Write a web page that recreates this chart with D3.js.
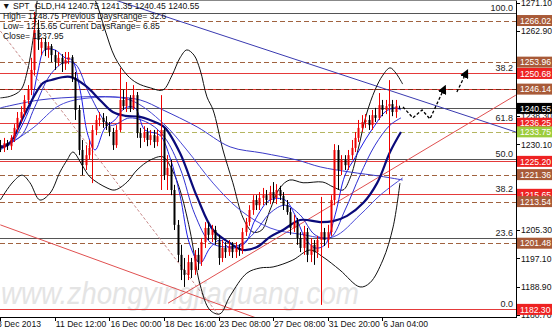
<!DOCTYPE html>
<html><head><meta charset="utf-8">
<script src="https://cdn.jsdelivr.net/npm/d3@7"></script>
<style>html,body{margin:0;padding:0;background:#fff;overflow:hidden}svg{display:block}text{font-family:"Liberation Sans",Arial,sans-serif}</style>
</head><body><svg id="c" width="552" height="328"></svg>
<script>
// ---- candles (H4), index 0..117 ----
const open=[1229.9,1229.1,1230.5,1229.6,1232.0,1234.9,1237.8,1239.5,1243.0,1245.9,
1251.7,1263.3,1258.1,1259.8,1257.5,1258.6,1256.0,1254.0,1255.2,1253.4,
1254.6,1255.4,1249.4,1240.1,1228.5,1224.1,1227.0,1229.1,1234.3,1237.2,
1237.8,1236.6,1235.4,1233.7,1229.9,1234.3,1243.0,1241.2,1243.6,1240.7,
1244.4,1233.4,1232.0,1233.7,1231.4,1232.8,1230.8,1232.5,1234.3,1221.2,
1223.3,1216.9,1206.8,1198.1,1193.7,1192.3,1196.0,1193.7,1198.1,1196.0,
1201.8,1205.9,1203.9,1205.3,1202.4,1197.2,1200.1,1198.9,1200.7,1198.9,
1200.1,1199.5,1204.7,1207.6,1211.1,1214.0,1212.5,1214.6,1215.4,1214.0,
1216.3,1214.6,1216.9,1215.2,1212.5,1210.5,1205.9,1207.6,1203.0,1200.1,
1204.7,1198.1,1201.0,1198.9,1202.4,1204.7,1202.4,1204.7,1214.0,1228.5,
1222.7,1225.6,1224.1,1227.0,1229.1,1232.0,1234.9,1236.6,1237.2,1235.7,
1238.6,1237.8,1241.5,1240.1,1241.2,1241.8,1239.5,1240.75];
const high=[1231.4,1232.0,1231.4,1232.8,1236.0,1239.5,1241.2,1244.4,1247.3,1255.2,
1268.5,1266.2,1261.0,1261.0,1259.8,1259.2,1257.5,1256.9,1256.3,1256.9,
1256.9,1256.0,1251.1,1241.5,1231.4,1229.9,1231.4,1235.7,1238.6,1239.5,
1239.2,1238.3,1236.6,1234.9,1235.7,1252.3,1245.9,1248.2,1244.4,1247.3,
1245.3,1234.9,1235.4,1234.9,1234.3,1234.3,1234.3,1244.4,1234.9,1227.0,
1225.6,1218.4,1208.2,1201.0,1197.2,1198.1,1197.2,1199.5,1200.1,1203.0,
1207.6,1207.6,1206.8,1206.5,1203.9,1202.4,1201.8,1202.4,1201.8,1201.8,
1201.2,1205.9,1208.8,1212.5,1215.4,1215.4,1216.3,1217.5,1216.9,1218.1,
1219.2,1218.6,1218.1,1216.3,1214.0,1211.7,1209.7,1208.8,1204.7,1206.5,
1205.9,1203.0,1202.4,1203.6,1214.9,1205.9,1206.8,1215.4,1230.2,1229.9,
1227.0,1227.0,1228.5,1231.4,1233.7,1237.2,1238.6,1238.9,1238.6,1240.1,
1240.7,1245.0,1243.0,1243.0,1248.75,1243.0,1243.0,1241.35];
const low=[1227.9,1227.9,1228.5,1228.5,1230.8,1233.7,1236.6,1238.3,1241.8,1244.4,
1250.2,1257.5,1256.0,1255.7,1255.2,1254.0,1251.7,1252.8,1251.1,1251.7,
1253.4,1248.2,1237.2,1227.0,1221.2,1222.7,1225.6,1218.9,1232.8,1235.4,
1234.9,1234.3,1232.5,1228.5,1229.1,1233.7,1240.1,1239.5,1239.5,1240.1,
1232.0,1229.1,1230.8,1229.6,1229.9,1229.1,1229.6,1216.9,1219.8,1216.9,
1215.4,1205.3,1196.0,1190.8,1188.8,1190.8,1191.4,1192.3,1193.7,1194.9,
1200.1,1202.4,1201.8,1201.0,1195.2,1196.0,1197.2,1197.8,1197.2,1197.2,
1197.8,1198.4,1203.6,1206.5,1209.7,1211.1,1211.1,1212.5,1212.5,1212.8,
1213.4,1212.8,1214.0,1211.1,1209.7,1203.9,1204.7,1201.0,1198.9,1198.1,
1196.0,1196.0,1195.2,1197.2,1183.6,1200.7,1200.1,1203.6,1212.5,1216.9,
1221.2,1222.7,1222.7,1225.6,1227.9,1230.8,1233.7,1234.9,1234.3,1234.3,
1236.6,1237.2,1238.3,1238.9,1215.65,1238.3,1237.8,1240.45];
const close=[1229.1,1230.5,1229.6,1232.0,1234.9,1237.8,1239.5,1243.0,1245.9,1251.7,
1263.3,1260.4,1259.8,1257.5,1258.6,1256.0,1254.0,1255.2,1253.4,1254.6,
1255.4,1249.4,1240.1,1228.5,1224.1,1227.0,1229.1,1234.3,1237.2,1237.8,
1236.6,1235.4,1233.7,1229.9,1234.3,1243.0,1241.2,1243.6,1240.7,1244.4,
1233.4,1232.0,1233.7,1231.4,1232.8,1230.8,1232.5,1234.3,1221.2,1223.3,
1216.9,1206.8,1198.1,1193.7,1192.3,1196.0,1193.7,1198.1,1196.0,1201.8,
1205.9,1203.9,1205.3,1202.4,1197.2,1200.1,1198.9,1200.7,1198.9,1200.1,
1199.5,1204.7,1207.6,1211.1,1214.0,1212.5,1214.6,1215.4,1214.0,1216.3,
1214.6,1216.9,1215.2,1212.5,1210.5,1205.9,1207.6,1203.0,1200.1,1204.7,
1198.1,1201.0,1198.9,1202.4,1204.7,1202.4,1204.7,1214.0,1228.5,1222.7,
1225.6,1224.1,1227.0,1229.1,1232.0,1234.9,1236.6,1237.2,1235.7,1238.6,
1237.8,1241.5,1240.1,1241.2,1241.8,1239.5,1241.2,1240.55];

// ---- indicator lines (bar index, price) ----
const navyIdx=[0,3,7,12.5,15,20.5,25.4,29.2,33,36.6,41,46,48.3,52.7,57.7,62.4,67.4,71.2,75.3,79.1,82.9,87.9,93.8,97.6,101.7,106.4,110.5,114.3,117.5];
const navyVal=[1229.1,1230.8,1238.6,1247.9,1248.8,1249.7,1246.8,1243.0,1239.5,1238.4,1238.1,1236.3,1234.9,1227.6,1214.9,1205.3,1201.5,1199.5,1200.4,1203.3,1205.3,1208.2,1207.6,1207.9,1209.4,1213.1,1218.9,1227.9,1233.7];
const fastIdx=[0,3,6,9,11,13,16,19,21,23.4,25.7,27.8,30.7,33.6,36.6,39.5,42.4,46.8,49.8,52.7,55.6,58.6,61.5,64.4,67.4,71.8,74.7,79.1,83.5,86.4,89.4,92.3,95.2,98.2,101.1,104,107,109.9,112.8,115.7,117.5];
const fastVal=[1229.1,1230.2,1234.9,1241.8,1251.1,1257.5,1257.5,1255.2,1254.6,1245.9,1232.8,1228.5,1234.9,1237.2,1240.7,1240.7,1234.3,1232.8,1226.2,1215.4,1201.0,1195.7,1200.1,1202.4,1200.1,1201.5,1208.2,1214.0,1214.0,1209.7,1203.0,1200.1,1201.0,1209.7,1221.2,1226.2,1231.4,1235.7,1239.5,1240.7,1240.1];
const midIdx=[0,6,10,14.6,19,22,26.3,32.2,38,44,48.3,52.7,57.1,61.5,65.9,70.3,74.7,79.1,83.5,87.9,92.3,96.7,101.1,105.5,109.9,114.3,117.5];
const midVal=[1229.6,1232.5,1240.7,1250.2,1254.0,1253.4,1244.4,1235.7,1237.8,1236.0,1232.0,1223.3,1209.7,1201.8,1200.4,1201.0,1204.7,1210.2,1212.5,1209.7,1203.9,1203.0,1211.1,1221.2,1229.9,1235.7,1237.8];
const ma20Idx=[0,9.6,17.5,26.3,38,47.7,54.7,62.4,70.3,79.1,87.9,97.6,105.5,111.4,118];
const ma20Val=[1228.5,1234.9,1241.5,1243.6,1243.0,1236.3,1228.5,1218.9,1211.1,1205.9,1204.1,1203.3,1209.7,1215.4,1220.4];
const slowIdx=[0,11.6,24.3,33,41,47.7,57.7,67.4,77,87,93.8,102.6,111.4,118];
const slowVal=[1240.7,1243.0,1243.9,1243.9,1243.0,1240.1,1235.2,1229.4,1227.6,1225.6,1223.6,1222.1,1220.9,1219.8];
const bbUpIdx=[0,3,6,8,10,11.6,17.5,23.4,27.8,30.7,33.6,37.2,40.1,44,47.7,50.4,52.7,54.7,56.8,58.6,60.6,62.4,65.3,68.2,71.2,74.1,76.7,79.1,82,84.9,88.8,94.6,97.6,100.5,102.6,104.9,107.3,109.9,112.2,114.3,116,118];
const bbUpVal=[1243.6,1244.1,1245.9,1251.7,1263.3,1274.9,1283.6,1279.2,1272.0,1263.3,1255.4,1250.2,1247.9,1246.5,1245.9,1250.2,1255.2,1257.5,1256.0,1251.7,1243.9,1240.1,1228.5,1219.0,1208.8,1204.7,1205.3,1211.1,1217.5,1219.8,1219.0,1219.2,1217.8,1216.9,1220.4,1228.5,1238.6,1245.9,1250.2,1252.3,1250.8,1247.6];
const bbLoIdx=[0,3.7,6.4,8.7,11.6,14.6,17.5,19.6,21.3,24,26.3,31.3,33.6,37.2,40.1,44,47.7,50.4,52.7,55.6,58.6,61.5,64.4,67.4,72.3,76.2,80,85.8,90.8,94.6,99.6,105.5,108.4,112.2,115.2,117.2];
const bbLoVal=[1214.0,1219.2,1221.2,1219.0,1214.0,1216.0,1222.1,1225.6,1227.9,1224.1,1220.7,1217.5,1216.9,1219.2,1222.7,1225.6,1226.5,1222.7,1216.9,1205.3,1189.4,1182.1,1181.0,1186.2,1192.8,1194.3,1194.6,1196.6,1199.5,1197.5,1193.7,1188.8,1190.0,1196.6,1206.2,1218.9];

// ---- drawn objects ----
const blueTrendIdx=[33.6,151.2], blueTrendVal=[1272.0,1233.7];
const redUpIdx=[49.2,151.2], redUpVal=[1184.1,1244.4];
const redDownIdx=[0,87.9], redDownVal=[1206.8,1175.2];
const dashIdx=[0,67.4], dashVal=[1263.0,1176.3];
const fcst1Idx=[118.1,121.0,123.7,126.0,130.1], fcst1Val=[1241.0,1237.8,1240.1,1237.5,1246.2];
const fcst2Idx=[133.9,136.6], fcst2Val=[1245.3,1250.8];

const brownLevels=[1266.02,1253.96,1221.36,1213.54,1201.48];
const redLevels=[1250.68,1246.14,1236.25,1225.20,1215.65,1182.30];
const greyLevels=[1268.3,1240.55,1225.95,1202.90];
const oliveLevels=[1233.75];

const fibText=["100.0","38.2","61.8","50.0","38.2","23.6","0.0"];
const fibPrice=[1268.3,1250.68,1236.25,1225.95,1215.65,1202.90,1182.30];

const yTicks=[1271.10,1262.90,1238.30,1230.10,1205.30,1197.10,1188.90,1180.70];
const boxPrice=[1236.25,1215.65,1250.68,1225.20,1182.30,1266.02,1253.96,1246.14,1221.36,1213.54,1201.48,1233.75,1240.55];
const boxKind=["r","r","r","r","r","b","b","b","b","b","b","g","k"];
const xTickIdx=[0,16,32,48,64,80,96,112];
const xTickText=["8 Dec 2013","11 Dec 12:00","16 Dec 00:00","18 Dec 16:00","23 Dec 08:00","27 Dec 08:00","31 Dec 20:00","6 Jan 04:00"];
const headerLines=["\u25BC SPT_GLD,H4  1240.75 1241.35 1240.45 1240.55","High= 1248.75 Previous DaysRange= 32.6","Low= 1215.65 Current DaysRange= 6.85","Close= 1237.95"];
const watermark="www.zhongyingjiaguang.com";

// ---- drawing ----
const PR=516, PB=317;
const svg=d3.select("#c");
const x=d3.scaleLinear().domain([0,112]).range([0.3,382.2]);
const y=d3.scaleLinear().domain([1180.09,1271.97]).range([PB,0]);
svg.append("rect").attr("width",552).attr("height",328).attr("fill","#fff");
const defs=svg.append("defs");
defs.append("clipPath").attr("id","pc").append("rect").attr("width",PR).attr("height",PB);
defs.append("marker").attr("id","ah").attr("viewBox","0 0 10 10").attr("refX",5).attr("refY",5)
 .attr("markerWidth",7).attr("markerHeight",7).attr("orient","auto-start-reverse")
 .append("path").attr("d","M0,0L10,5L0,10z").attr("fill","#000");
const g=svg.append("g").attr("clip-path","url(#pc)");

g.append("text").attr("x",1).attr("y",304).attr("font-family","'Liberation Serif',serif").attr("font-style","italic")
 .attr("font-size",31).attr("fill","#e4e4e4").attr("textLength",358).attr("lengthAdjust","spacingAndGlyphs").text(watermark);

function hl(levels,color,dash,w){
  g.selectAll(null).data(levels).enter().append("line").attr("x1",0).attr("x2",PR)
   .attr("y1",d=>Math.round(y(d))+0.5).attr("y2",d=>Math.round(y(d))+0.5)
   .attr("stroke",color).attr("stroke-width",w||1).attr("stroke-dasharray",dash||null);
}
hl(greyLevels,"#555");
hl(redLevels,"#e43a3a");
hl(brownLevels,"#a0623f","5,3");
hl([1246.14],"#7a2a10","5,3");
hl(oliveLevels,"#b5b560","5,3");

function seg(ix,iv,color,dash,w,arrow){
  const ln=d3.line().x((d,i)=>x(ix[i])).y((d,i)=>y(iv[i]));
  const p=g.append("path").attr("d",ln(ix)).attr("fill","none").attr("stroke",color).attr("stroke-width",w||1).attr("stroke-dasharray",dash||null);
  if(arrow) p.attr("marker-end","url(#ah)");
}
seg(blueTrendIdx,blueTrendVal,"#3a3ab0");
seg(redUpIdx,redUpVal,"#e05050");
seg(redDownIdx,redDownVal,"#e05050");
seg(dashIdx,dashVal,"#c88a8a","3,2");

function curve(ix,iv,color,w){
  const ln=d3.line().x((d,i)=>x(ix[i])).y((d,i)=>y(iv[i])).curve(d3.curveCatmullRom.alpha(0.5));
  g.append("path").attr("d",ln(ix)).attr("fill","none").attr("stroke",color).attr("stroke-width",w);
}
curve(bbUpIdx,bbUpVal,"#111",1);
curve(bbLoIdx,bbLoVal,"#111",1);
curve(slowIdx,slowVal,"#3a3ac8",1);
curve(ma20Idx,ma20Val,"#4a4ad8",1);
curve(midIdx,midVal,"#2f2fd0",1);
curve(fastIdx,fastVal,"#1e1ee8",1);
curve(navyIdx,navyVal,"#0a0a7a",2.2);

const cg=g.append("g");
open.forEach((o,i)=>{
  const c=close[i], up=c>=o, col=up?"#ee0000":"#000";
  const cx=Math.round(x(i))+0.5;
  cg.append("line").attr("x1",cx).attr("x2",cx).attr("y1",y(high[i])).attr("y2",y(low[i])).attr("stroke",col);
  const t=y(Math.max(o,c)), b=y(Math.min(o,c));
  cg.append("rect").attr("x",cx-1).attr("y",t).attr("width",2).attr("height",Math.max(1,b-t)).attr("fill",col);
});

seg(fcst1Idx,fcst1Val,"#000","3,2",1.3,true);
seg(fcst2Idx,fcst2Val,"#000","3,2",1.3,true);

g.selectAll(null).data(fibText).enter().append("text").attr("x",513).attr("y",(d,i)=>y(fibPrice[i])-2)
 .attr("text-anchor","end").attr("font-size",9).attr("fill","#222").text(d=>d);

g.selectAll(null).data(headerLines).enter().append("text").attr("x",(d,i)=>i?3:2).attr("y",(d,i)=>8.5+i*10.3)
 .attr("font-size",8.6).attr("fill","#111").text(d=>d);

// frame
svg.append("line").attr("x1",PR+0.5).attr("x2",PR+0.5).attr("y1",0).attr("y2",PB+1).attr("stroke","#000");
svg.append("line").attr("x1",0).attr("x2",PR+1).attr("y1",PB+0.5).attr("y2",PB+0.5).attr("stroke","#000");
svg.append("line").attr("x1",0).attr("x2",PR+1).attr("y1",0.5).attr("y2",0.5).attr("stroke","#888");

// right axis
svg.selectAll(null).data(yTicks).enter().append("line").attr("x1",PR).attr("x2",PR+4)
 .attr("y1",d=>Math.round(y(d))+0.5).attr("y2",d=>Math.round(y(d))+0.5).attr("stroke","#000");
svg.selectAll(null).data(yTicks).enter().append("text").attr("x",521).attr("y",d=>y(d)+3.2)
 .attr("font-size",8.6).attr("fill","#111").text(d=>d.toFixed(2));
const boxFill={r:"#ee2222",b:"#a85a38",g:"#9ccc3c",k:"#000"};
boxPrice.forEach((p,i)=>{
  const cy=y(p);
  svg.append("rect").attr("x",517).attr("y",cy-5.5).attr("width",35).attr("height",11).attr("fill",boxFill[boxKind[i]]);
  svg.append("text").attr("x",520).attr("y",cy+3.2).attr("font-size",8.6).attr("fill","#fff").text(p.toFixed(2));
});

// bottom axis
svg.selectAll(null).data(xTickIdx).enter().append("line").attr("x1",d=>Math.round(x(d))+0.5).attr("x2",d=>Math.round(x(d))+0.5)
 .attr("y1",PB).attr("y2",PB+4).attr("stroke","#000");
svg.selectAll(null).data(xTickText).enter().append("text").attr("x",(d,i)=>i?x(xTickIdx[i])+1:-3).attr("y",326.5)
 .attr("font-size",8.6).attr("fill","#111").text(d=>d);
</script></body></html>
